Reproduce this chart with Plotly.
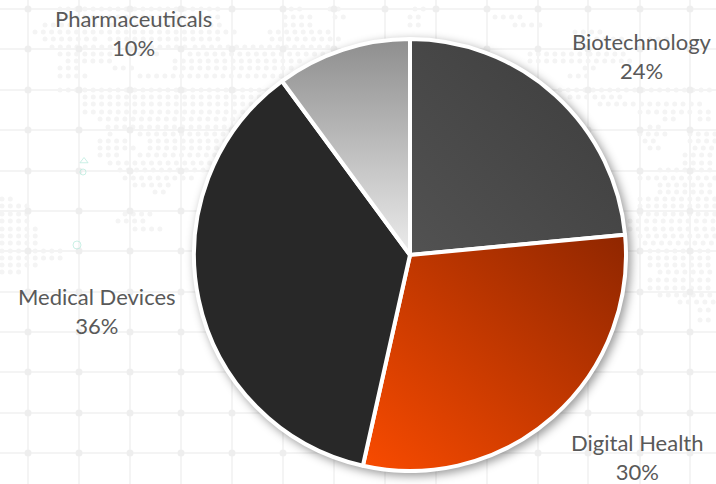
import plotly.graph_objects as go

categories = ["Biotechnology", "Digital Health", "Medical Devices", "Pharmaceuticals"]
shares = [23.5, 30.0, 36.4, 10.1]
base_colors = ["#454545", "#c43a00", "#282828", "#bdbdbd"]

W, H = 716, 484
CX, CY, R = 410, 255, 216
label_anchor = {
    "Biotechnology": (642, 56),
    "Digital Health": (637, 457),
    "Medical Devices": (97, 311),
    "Pharmaceuticals": (133, 33),
}

# faint world-map dot texture: row -> list of (start, end)
map_rows = {
    9: [(60, 225), (283, 300), (330, 345), (415, 430)],
    17: [(60, 225), (285, 310), (335, 350), (410, 425), (495, 520)],
    25: [(45, 225), (285, 315), (410, 425), (515, 540)],
    32: [(35, 240), (270, 335), (575, 600)],
    39: [(45, 95), (110, 225), (272, 340), (580, 625), (650, 670)],
    47: [(52, 190), (195, 330), (580, 590)],
    54: [(60, 110), (140, 160), (190, 330), (530, 590), (590, 625)],
    61: [(68, 112), (175, 300), (530, 630)],
    68: [(60, 80), (115, 135), (175, 295), (585, 600)],
    76: [(60, 85), (140, 290), (570, 590)],
    90: [(60, 270), (560, 716)],
    97: [(85, 265), (570, 625)],
    104: [(85, 260), (600, 700)],
    112: [(85, 250), (640, 690), (700, 716)],
    119: [(100, 245), (665, 680), (700, 716)],
    127: [(108, 235), (650, 665)],
    134: [(110, 115), (140, 230), (640, 665), (690, 716)],
    141: [(100, 125), (150, 225), (645, 660), (690, 716)],
    148: [(100, 135), (150, 220), (650, 660), (695, 716)],
    155: [(100, 120), (140, 215), (685, 716)],
    163: [(110, 210), (685, 716)],
    170: [(120, 205), (660, 716)],
    178: [(125, 195), (640, 716)],
    185: [(135, 170), (660, 716)],
    192: [(155, 170), (660, 716)],
    199: [(2, 15), (640, 716)],
    206: [(2, 30), (640, 716)],
    214: [(2, 30), (125, 150), (640, 716)],
    221: [(2, 30), (118, 145), (630, 716)],
    229: [(2, 38), (135, 160), (630, 716)],
    236: [(2, 38), (640, 716)],
    243: [(2, 38), (645, 716)],
    251: [(2, 62), (650, 716)],
    258: [(2, 62), (650, 716)],
    265: [(2, 38), (650, 716)],
    272: [(2, 22), (660, 716)],
    280: [(650, 716)],
    288: [(650, 716)],
    295: [(660, 716)],
    302: [(680, 716)],
    310: [(700, 716)],
    320: [(700, 716)],
}
grid_x = [28, 79, 130, 181, 232, 283, 334, 385, 436, 487, 538, 588, 640, 690]
grid_y = [9, 49, 90, 130, 171, 211, 251, 292, 332, 372, 413, 453]

dot_x, dot_y = [], []
for row, spans in map_rows.items():
    for a, b in spans:
        x = a
        while x <= b:
            dot_x.append(x)
            dot_y.append(row)
            x += 8.3

node_x = [x for x in grid_x for _ in grid_y]
node_y = [y for _ in grid_x for y in grid_y]

fig = go.Figure()
fig.add_trace(go.Scatter(x=dot_x, y=dot_y, mode="markers", hoverinfo="skip",
                         marker=dict(size=5, color="#f4f4f4")))
fig.add_trace(go.Scatter(x=node_x, y=node_y, mode="markers", hoverinfo="skip",
                         marker=dict(size=7, color="#eeeeee")))
fig.add_trace(go.Scatter(x=[84, 83, 77], y=[161, 172, 245], mode="markers", hoverinfo="skip",
                         marker=dict(size=[7, 6, 8], symbol=["triangle-up-open", "circle-open", "circle-open"],
                                     color="#b5eadc", line=dict(width=1))))
fig.add_trace(go.Pie(labels=categories, values=shares, sort=False, direction="clockwise",
                     rotation=0, textinfo="none", hoverinfo="label+percent",
                     marker=dict(colors=base_colors, line=dict(color="#ffffff", width=4)),
                     domain=dict(x=[(CX - R) / W, (CX + R) / W],
                                 y=[(H - CY - R) / H, (H - CY + R) / H])))

total = sum(shares)
for name, value in zip(categories, shares):
    ax, ay = label_anchor[name]
    fig.add_annotation(x=ax, y=ay, xref="x", yref="y", showarrow=False,
                       text=f"{name}<br>{round(100 * value / total)}%",
                       font=dict(family="Lato", size=22, color="#595959"),
                       xanchor="center", yanchor="middle", align="center")

axis_common = dict(showline=False, zeroline=False, showticklabels=False, ticks="",
                   showgrid=True, gridcolor="#f4f4f4", gridwidth=1.5, tickmode="array")
fig.update_layout(
    width=W, height=H, showlegend=False, margin=dict(l=0, r=0, t=0, b=0),
    paper_bgcolor="#ffffff", plot_bgcolor="#ffffff",
    xaxis=dict(range=[0, W], tickvals=grid_x, domain=[0, 1], fixedrange=True, **axis_common),
    yaxis=dict(range=[H, 0], tickvals=grid_y, domain=[0, 1], fixedrange=True, **axis_common),
)

post = """
document.documentElement.style.margin = '0';
document.body.style.margin = '0';
document.body.style.overflow = 'hidden';
var gd = document.getElementById('{plot_id}');
gd.style.fontVariantLigatures = 'none';
var svg = gd.querySelector('svg.main-svg');
var NS = 'http://www.w3.org/2000/svg';
var defs = document.createElementNS(NS, 'defs');
var grads = [
  [[0,1,1,0], '#525252', '#3c3c3c'],
  [[0,1,1,0], '#f94b00', '#8f2600'],
  [[0,0,0,1], '#282828', '#282828'],
  [[0,0,0,1], '#8e8e8e', '#ececec']
];
grads.forEach(function(g, i) {
  var lg = document.createElementNS(NS, 'linearGradient');
  lg.setAttribute('id', 'sliceGrad' + i);
  lg.setAttribute('x1', g[0][0]); lg.setAttribute('y1', g[0][1]);
  lg.setAttribute('x2', g[0][2]); lg.setAttribute('y2', g[0][3]);
  [[0, g[1]], [1, g[2]]].forEach(function(s) {
    var st = document.createElementNS(NS, 'stop');
    st.setAttribute('offset', s[0]); st.setAttribute('stop-color', s[1]);
    lg.appendChild(st);
  });
  defs.appendChild(lg);
});
svg.appendChild(defs);
gd.querySelectorAll('.pielayer .slice path.surface').forEach(function(p, i) {
  p.style.setProperty('fill', 'url(#sliceGrad' + i + ')');
  p.style.setProperty('fill-opacity', '1');
});
var tr = gd.querySelector('.pielayer .trace');
if (tr) tr.style.filter = 'drop-shadow(3px 3px 5px rgba(0,0,0,0.4))';
"""
fig.write_html("out.html", post_script=post, config={"displayModeBar": False})
